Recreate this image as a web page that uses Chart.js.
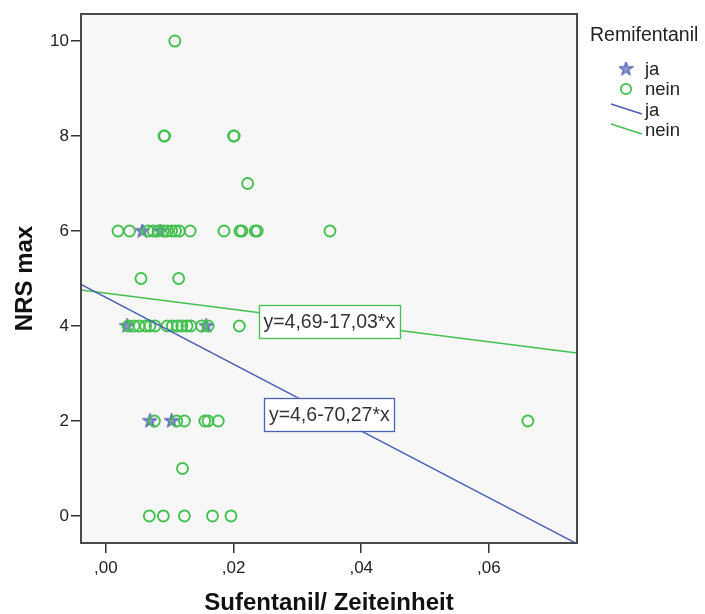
<!DOCTYPE html>
<html>
<head>
<meta charset="utf-8">
<script src="https://cdn.jsdelivr.net/npm/chart.js@4.4.0/dist/chart.umd.min.js"></script>
<style>
  html, body { margin: 0; padding: 0; background: #fff; }
  #wrap { width: 705px; height: 614px; }
</style>
</head>
<body>
<div id="wrap"><canvas id="myChart"></canvas></div>
<script>
// ---------- data ----------
const xTicks = [0, 0.02, 0.04, 0.06];
const yTicks = [0, 2, 4, 6, 8, 10];

// Remifentanil = ja
const jaX = [0.0057, 0.0085, 0.0033, 0.0157, 0.0069, 0.0103];
const jaY = [6, 6, 4, 4, 2, 2];

// Remifentanil = nein
const neinX = [
  0.0108,
  0.0091, 0.0092, 0.0200, 0.0201,
  0.0222,
  0.0019, 0.0037, 0.0066, 0.0074, 0.0082, 0.0090, 0.0096, 0.0103, 0.0109,
  0.0115, 0.0132, 0.0185, 0.0210, 0.0213, 0.0234, 0.0237, 0.0351,
  0.0055, 0.0114,
  0.0035, 0.0044, 0.0052, 0.0062, 0.0069, 0.0077, 0.0096, 0.0104, 0.0112,
  0.0119, 0.0127, 0.0133, 0.0150, 0.0160, 0.0209,
  0.0076, 0.0111, 0.0123, 0.0155, 0.0160, 0.0176, 0.0661,
  0.0120,
  0.0068, 0.0090, 0.0123, 0.0167, 0.0196,
];
const neinY = [
  10,
  8, 8, 8, 8,
  7,
  6, 6, 6, 6, 6, 6, 6, 6, 6,
  6, 6, 6, 6, 6, 6, 6, 6,
  5, 5,
  4, 4, 4, 4, 4, 4, 4, 4, 4,
  4, 4, 4, 4, 4, 4,
  2, 2, 2, 2, 2, 2, 2,
  1,
  0, 0, 0, 0, 0,
];

// linear fits (intercept, slope) and their labels
const jaFit = [4.6, -70.27];
const neinFit = [4.69, -17.03];
const jaFitLabel = "y=4,6-70,27*x";
const neinFitLabel = "y=4,69-17,03*x";
const fitLabelX = 0.035;

const xMin = -0.0039, xMax = 0.0738;
const yMin = -0.57, yMax = 10.57;

// ---------- styles ----------
const blue = "#4b5fb4";
const green = "#43c04f";
const font = "'Liberation Sans', Arial, sans-serif";

function toPoints(xs, ys) {
  return xs.map((x, i) => ({ x: x, y: ys[i] }));
}
function fitLine(fit) {
  return [
    { x: xMin, y: fit[0] + fit[1] * xMin },
    { x: xMax, y: fit[0] + fit[1] * xMax },
  ];
}

// star marker
function makeStar(size) {
  const c = document.createElement("canvas");
  c.width = size;
  c.height = size;
  const g = c.getContext("2d");
  const r = size / 2 - 0.5, ri = r * 0.4;
  g.beginPath();
  for (let i = 0; i < 10; i++) {
    const a = -Math.PI / 2 + (i * Math.PI) / 5;
    const rr = i % 2 === 0 ? r : ri;
    const px = size / 2 + rr * Math.cos(a);
    const py = size / 2 + rr * Math.sin(a);
    i === 0 ? g.moveTo(px, py) : g.lineTo(px, py);
  }
  g.closePath();
  g.fillStyle = "rgba(70,88,175,0.6)";
  g.fill();
  g.strokeStyle = "#4255ad";
  g.lineWidth = 1.1;
  g.stroke();
  return c;
}
const star = makeStar(15);

// ---------- plugin: background, frame, titles, fit labels, legend ----------
const spssPlugin = {
  id: "spss",
  beforeDatasetsDraw(chart) {
    const { ctx, chartArea: a } = chart;
    ctx.save();
    ctx.fillStyle = "#f7f7f7";
    ctx.fillRect(a.left, a.top, a.right - a.left, a.bottom - a.top);
    ctx.restore();
  },
  afterDraw(chart) {
    const { ctx, chartArea: a, scales } = chart;
    ctx.save();
    ctx.beginPath();
    ctx.rect(a.left, a.top, a.right - a.left, a.bottom - a.top);
    ctx.clip();
    // fit labels
    [[neinFit, neinFitLabel, green], [jaFit, jaFitLabel, blue]].forEach(([fit, txt, col]) => {
      const cx = scales.x.getPixelForValue(fitLabelX);
      const cy = scales.y.getPixelForValue(fit[0] + fit[1] * fitLabelX);
      ctx.font = "19.5px " + font;
      const w = ctx.measureText(txt).width + 9;
      const h = 33;
      ctx.fillStyle = "#fff";
      ctx.fillRect(cx - w / 2, cy - h / 2, w, h);
      ctx.strokeStyle = col;
      ctx.lineWidth = 1.3;
      ctx.strokeRect(Math.round(cx - w / 2) + 0.5, Math.round(cy - h / 2) + 0.5, Math.round(w), h);
      ctx.fillStyle = "#333";
      ctx.textAlign = "center";
      ctx.textBaseline = "middle";
      ctx.fillText(txt, cx, cy + 1);
    });
    ctx.restore();

    // frame
    ctx.save();
    ctx.strokeStyle = "#4a4a4a";
    ctx.lineWidth = 2;
    ctx.strokeRect(a.left, a.top, a.right - a.left, a.bottom - a.top);
    ctx.restore();

    // axis titles
    ctx.save();
    ctx.fillStyle = "#111";
    ctx.font = "bold 24px " + font;
    ctx.textAlign = "center";
    ctx.textBaseline = "middle";
    ctx.fillText("Sufentanil/ Zeiteinheit", (a.left + a.right) / 2, 603);
    ctx.translate(25, (a.top + a.bottom) / 2);
    ctx.rotate(-Math.PI / 2);
    ctx.fillText("NRS max", 0, 0);
    ctx.restore();

    // legend
    ctx.save();
    ctx.fillStyle = "#222";
    ctx.textBaseline = "middle";
    ctx.font = "19.5px " + font;
    ctx.fillText("Remifentanil", 590, 36);
    ctx.font = "18.5px " + font;
    const tx = 645;
    ctx.drawImage(star, 626 - 7.5, 69 - 7.5);
    ctx.fillText("ja", tx, 70);
    ctx.beginPath();
    ctx.arc(626, 89, 5.2, 0, Math.PI * 2);
    ctx.strokeStyle = green;
    ctx.lineWidth = 1.8;
    ctx.stroke();
    ctx.fillText("nein", tx, 90);
    ctx.lineWidth = 1.5;
    ctx.strokeStyle = blue;
    ctx.beginPath();
    ctx.moveTo(611, 104);
    ctx.lineTo(642, 114);
    ctx.stroke();
    ctx.fillText("ja", tx, 111);
    ctx.strokeStyle = green;
    ctx.beginPath();
    ctx.moveTo(611, 124);
    ctx.lineTo(642, 134);
    ctx.stroke();
    ctx.fillText("nein", tx, 131);
    ctx.restore();
  },
};

// ---------- chart ----------
const ctx = document.getElementById("myChart").getContext("2d");
const chart = new Chart(ctx, {
  type: "scatter",
  data: {
    datasets: [
      {
        type: "line",
        label: "ja fit",
        data: fitLine(jaFit),
        borderColor: blue,
        borderWidth: 1.5,
        pointRadius: 0,
        fill: false,
      },
      {
        type: "line",
        label: "nein fit",
        data: fitLine(neinFit),
        borderColor: green,
        borderWidth: 1.5,
        pointRadius: 0,
        fill: false,
      },
      {
        label: "nein",
        data: toPoints(neinX, neinY),
        pointStyle: "circle",
        pointRadius: 5.5,
        borderWidth: 1.9,
        borderColor: green,
        backgroundColor: "rgba(0,0,0,0)",
      },
      {
        label: "ja",
        data: toPoints(jaX, jaY),
        pointStyle: star,
        pointRadius: 7,
        borderColor: blue,
        backgroundColor: blue,
      },
    ],
  },
  options: {
    responsive: true,
    maintainAspectRatio: false,
    animation: false,
    events: [],
    layout: { padding: { left: 0, top: 14, right: 128, bottom: 0 } },
    plugins: {
      legend: { display: false },
      tooltip: { enabled: false },
    },
    scales: {
      x: {
        type: "linear",
        min: xMin,
        max: xMax,
        afterBuildTicks: (s) => { s.ticks = xTicks.map((v) => ({ value: v })); },
        afterFit: (s) => { s.height = 71; },
        grid: { drawOnChartArea: false, drawTicks: true, tickLength: 10, color: "#333", lineWidth: 1.5 },
        border: { display: true, color: "#4a4a4a", width: 2 },
        ticks: {
          padding: 5,
          color: "#222",
          font: { family: font, size: 17 },
          callback: (v) => v.toFixed(2).replace("0.", ","),
        },
      },
      y: {
        type: "linear",
        min: yMin,
        max: yMax,
        afterBuildTicks: (s) => { s.ticks = yTicks.map((v) => ({ value: v })); },
        afterFit: (s) => { s.width = 81; },
        grid: { drawOnChartArea: false, drawTicks: true, tickLength: 10, color: "#333", lineWidth: 1.5 },
        border: { display: true, color: "#4a4a4a", width: 2 },
        ticks: {
          padding: 2,
          color: "#222",
          font: { family: font, size: 17 },
        },
      },
    },
  },
  plugins: [spssPlugin],
});
</script>
</body>
</html>
